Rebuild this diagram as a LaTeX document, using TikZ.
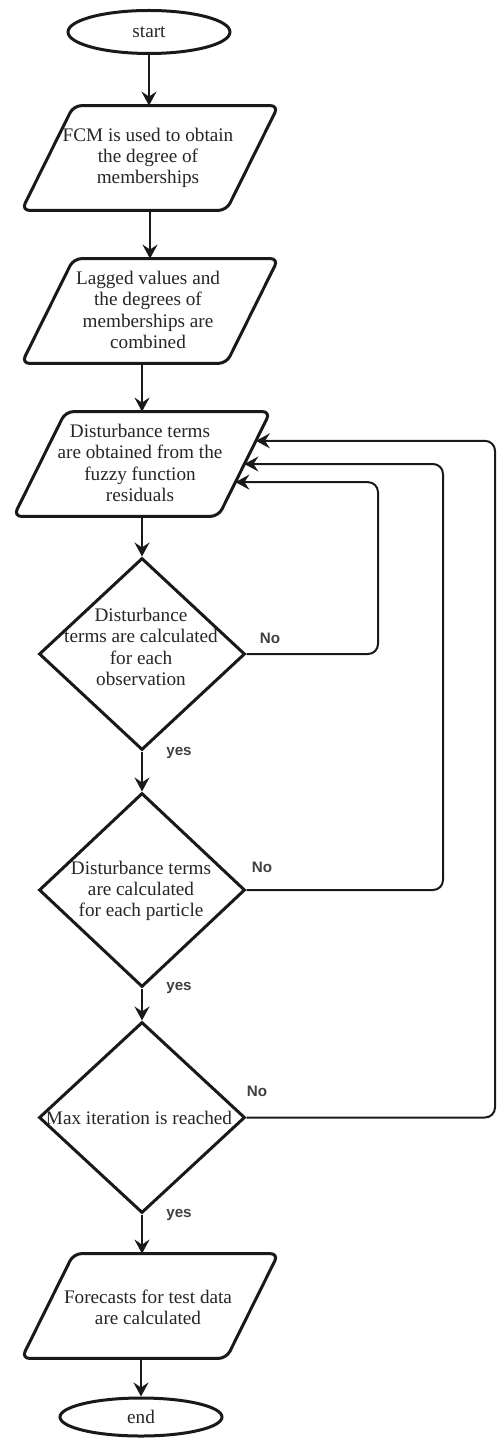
\documentclass[tikz,border=0pt]{standalone}
\usepackage{fontspec}
\setmainfont{Liberation Serif}
\newfontfamily\lblfont{Liberation Sans}
\usetikzlibrary{shapes.geometric,arrows.meta,calc}
\newcommand\boxtxtfont{\fontsize{9.6}{10.6}\selectfont}
\newcommand\lbltxtfont{\lblfont\bfseries\fontsize{7.6}{9}\selectfont}
\newcommand\drawpara[1]{%
  \draw[shapeline, rounded corners=4pt] ($(#1.north west)+(52,0)$) -- (#1.north east)
    -- ($(#1.south east)+(-52,0)$) -- (#1.south west) -- cycle;}
\begin{document}
\begin{tikzpicture}[x=0.5pt,y=-0.5pt,
  shapeline/.style={draw=black!90, line width=1.5pt, fill=white},
  term/.style={shapeline, ellipse, inner sep=0pt},
  io/.style={rectangle, minimum width=128pt, minimum height=52pt, inner sep=0pt},
  dec/.style={shapeline, diamond, inner sep=0pt, minimum width=103pt},
  txt/.style={align=center, text=black!85, font=\boxtxtfont, inner sep=0pt},
  arr/.style={-{Stealth[length=7pt,width=7.5pt,inset=2.5pt]}, line width=1pt, draw=black!90},
  loopline/.style={arr, rounded corners=5pt},
  lbl/.style={font=\lbltxtfont, text=black!75, inner sep=0pt},
]
\path[use as bounding box] (0,0) rectangle (498,1438);

% shapes
\node[term, minimum width=81pt, minimum height=21.5pt] (start) at (149,32) {};
\node[io] (p1) at (150,158) {};
\node[io] (p2) at (150,311) {};
\node[io] (p3) at (142,464) {};
\node[dec, minimum height=96pt] (d1) at (142,654) {};
\node[dec, minimum height=97pt] (d2) at (142,890) {};
\node[dec, minimum height=95.5pt] (d3) at (142,1117.5) {};
\node[io] (p4) at (150,1306) {};
\node[term, minimum width=81pt, minimum height=19pt] (end) at (141,1417) {};
\drawpara{p1}
\drawpara{p2}
\drawpara{p3}
\drawpara{p4}

% texts
\node[txt] (startt) at (149,32) {start};
\node[txt] (p1t) at (148,158) {FCM is used to obtain\\the degree of\\memberships};
\node[txt] (p2t) at (148,310) {Lagged values and\\the degrees of\\memberships are\\combined};
\node[txt] (p3t) at (140,463) {Disturbance terms\\are obtained from the\\fuzzy function\\residuals};
\node[txt] (d1t) at (141,647) {Disturbance\\terms are calculated\\for each\\observation};
\node[txt] (d2t) at (141,891) {Disturbance terms\\are calculated\\for each particle};
\node[txt] (d3t) at (139,1118) {Max iteration is reached};
\node[txt] (p4t) at (148,1307) {Forecasts for test data\\are calculated};
\node[txt] (endt) at (141,1417) {end};

% main flow
\draw[arr] (start.south) -- (start.south |- p1.north);
\draw[arr] (p1.south) -- (p2.north);
\draw[arr] (p3.north |- p2.south) -- (p3.north);
\draw[arr] (p3.south) -- (d1.north);
\draw[arr] (d1.south) -- (d2.north);
\draw[arr] (d2.south) -- (d3.north);
\draw[arr] (d3.south) -- (d3.south |- p4.north);
\draw[arr] (end.north |- p4.south) -- (end.north);

% feedback loops (ending on the slanted right edge of p3)
\coordinate (p3tr) at (p3.north east);
\coordinate (p3br) at ($(p3.south east)+(-52,0)$);
\coordinate (t1) at ($(p3tr)!0.673!(p3br)$);
\coordinate (t2) at ($(p3tr)!0.5!(p3br)$);
\coordinate (t3) at ($(p3tr)!0.279!(p3br)$);
\coordinate (c1) at (378,0);
\coordinate (c2) at (443,0);
\coordinate (c3) at (495,0);
\draw[loopline] (d1.east) -- (d1.east -| c1) -- (c1 |- t1) -- (t1);
\draw[loopline] (d2.east) -- (d2.east -| c2) -- (c2 |- t2) -- (t2);
\draw[loopline] (d3.east) -- (d3.east -| c3) -- (c3 |- t3) -- (t3);

% labels
\node[lbl] (no1) at (270,638) {No};
\node[lbl] (yes1) at (179,753) {yes};
\node[lbl] (no2) at (262,867) {No};
\node[lbl] (yes2) at (179,988) {yes};
\node[lbl] (no3) at (257,1091) {No};
\node[lbl] (yes3) at (179,1215) {yes};
\end{tikzpicture}
\end{document}
